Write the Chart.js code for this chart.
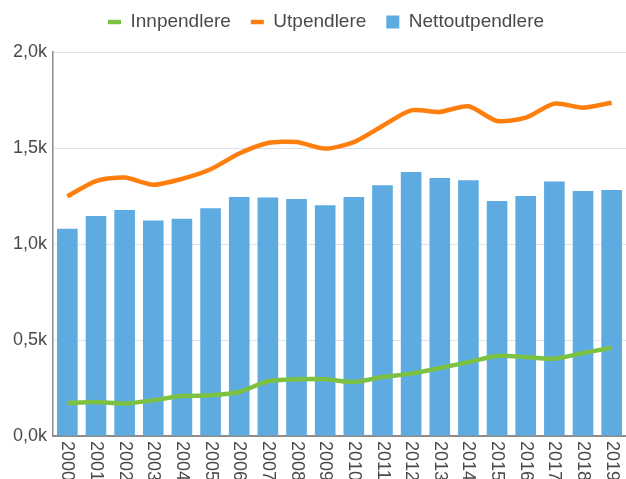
<!DOCTYPE html>
<html>
<head>
<meta charset="utf-8">
<script src="https://cdn.jsdelivr.net/npm/chart.js@4"></script>
<style>
  body { margin: 0; background: #fff; }
  #wrap { width: 626px; height: 479px; }
</style>
</head>
<body>
<div id="wrap"><canvas id="pendlerChart"></canvas></div>
<script>
"use strict";

var years = ['2000', '2001', '2002', '2003', '2004', '2005', '2006', '2007', '2008', '2009',
	'2010', '2011', '2012', '2013', '2014', '2015', '2016', '2017', '2018', '2019'];
var innpendlere = [172, 177, 169, 186, 208, 212, 229, 285, 295, 295, 281, 307, 325, 354, 385, 417, 411, 403, 432, 460];
var utpendlere = [1248, 1328, 1346, 1309, 1339, 1389, 1471, 1526, 1531, 1497, 1531, 1615, 1696, 1688, 1717, 1641, 1658, 1731, 1710, 1736];
var nettoutpendlere = [1080, 1146, 1177, 1123, 1132, 1186, 1245, 1242, 1234, 1202, 1245, 1306, 1375, 1344, 1332, 1224, 1250, 1325, 1276, 1281];
var yTicks = [0, 500, 1000, 1500, 2000];

var FONT = "'Liberation Sans', Arial, sans-serif";
var TEXT = '#4a4a4a';

/*******************
  LEGEND POSITION
*******************/

var legendPlace = {
	id: 'legendPlace',
	afterLayout: function(chart) {
		chart.legend.left = 88;
		chart.legend.top = -7.5;
	}
};

/*******************
  ROTATED X LABELS
*******************/

var xLabels = {
	id: 'xLabels',
	afterDraw: function(chart) {
		var ctx = chart.ctx;
		var xScale = chart.scales.x;
		ctx.save();
		ctx.font = '18px ' + FONT;
		ctx.fillStyle = TEXT;
		ctx.textAlign = 'left';
		ctx.textBaseline = 'middle';
		years.forEach(function(label, i) {
			ctx.save();
			ctx.translate(xScale.getPixelForTick(i), chart.chartArea.bottom + 5);
			ctx.rotate(Math.PI / 2);
			ctx.fillText(label, 0, 0);
			ctx.restore();
		});
		ctx.restore();
	}
};

var ctx = document.getElementById('pendlerChart');

var pendlerChart = new Chart(ctx, {
	type: 'bar',
	data: {
		labels: years,
		datasets: [{
			type: 'line',
			label: 'Innpendlere',
			data: innpendlere,
			borderColor: '#7DC142',
			backgroundColor: '#7DC142',
			borderWidth: 4.5,
			pointRadius: 0,
			pointStyle: 'line',
			tension: 0.25,
			order: 0
		}, {
			type: 'line',
			label: 'Utpendlere',
			data: utpendlere,
			borderColor: '#FF7F0E',
			backgroundColor: '#FF7F0E',
			borderWidth: 4.5,
			pointRadius: 0,
			pointStyle: 'line',
			tension: 0.25,
			order: 0
		}, {
			label: 'Nettoutpendlere',
			data: nettoutpendlere,
			backgroundColor: '#5DABE0',
			borderWidth: 0,
			pointStyle: 'rect',
			barPercentage: 0.72,
			categoryPercentage: 1,
			order: 1
		}]
	},
	options: {
		responsive: true,
		maintainAspectRatio: false,
		animation: false,
		layout: {
			padding: { top: 3, left: 0, right: 0, bottom: 0 }
		},
		plugins: {
			tooltip: { enabled: false },
			legend: {
				align: 'start',
				labels: {
					usePointStyle: true,
					pointStyleWidth: 13,
					boxHeight: 13,
					padding: 20,
					color: TEXT,
					font: { family: FONT, size: 19 }
				}
			}
		},
		scales: {
			x: {
				grid: { display: false },
				border: { display: true, color: '#8c8c8c', width: 2 },
				ticks: { display: false },
				afterFit: function(scale) { scale.height = 43; }
			},
			y: {
				min: 0,
				max: 2000,
				afterBuildTicks: function(scale) {
					scale.ticks = yTicks.map(function(v) { return { value: v }; });
				},
				grid: { color: '#dde1e8', lineWidth: 1, drawTicks: false },
				border: { display: true, color: '#8c8c8c', width: 1.5 },
				ticks: {
					padding: 6,
					color: TEXT,
					font: { family: FONT, size: 18 },
					callback: function(v) {
						return (v / 1000).toFixed(1).replace('.', ',') + 'k';
					}
				},
				afterFit: function(scale) { scale.width = 53; }
			}
		}
	},
	plugins: [legendPlace, xLabels]
});
</script>
</body>
</html>
